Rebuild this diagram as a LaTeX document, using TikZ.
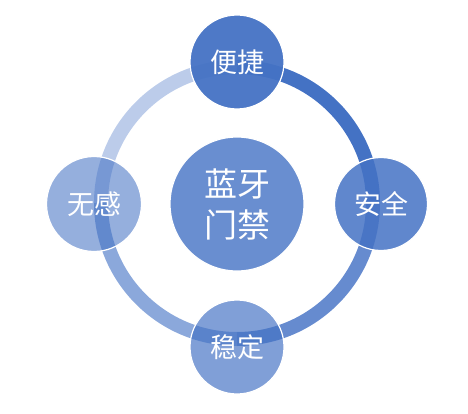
\documentclass[tikz,border=0pt]{standalone}
\usepackage{fontspec}
\newfontfamily\cjk{Noto Sans CJK SC}
\definecolor{base}{HTML}{4472C4}
\tikzset{
  bubble/.style={circle, inner sep=0pt, fill=base, draw=white, line width=1.2pt,
    text=white, text opacity=1, font=\cjk\fontsize{27}{30}\selectfont},
  ringarc/.style={line width=14pt, line cap=butt},
}
\begin{document}
\begin{tikzpicture}[x=1pt,y=1pt]
\useasboundingbox (0,0) rectangle (468,413);
\coordinate (ringc) at (237,210);
% ring quadrants
\draw[ringarc, base!36!white] (ringc) ++(180:136) arc[start angle=180, end angle=90, radius=136];
\draw[ringarc, base!62!white] (ringc) ++(270:136) arc[start angle=270, end angle=180, radius=136];
\draw[ringarc, base!82!white] (ringc) ++(360:136) arc[start angle=360, end angle=270, radius=136];
\draw[ringarc, base] (ringc) ++(90:136) arc[start angle=90, end angle=0, radius=136];
% circles
\node[bubble, minimum size=134pt, fill opacity=0.8, font=\cjk\fontsize{33}{41}\selectfont, align=center] (center) at (237,209) {蓝牙\\门禁};
\node[bubble, minimum size=94pt, fill opacity=0.95] (top) at (237,351) {便捷};
\node[bubble, minimum size=93pt, fill opacity=0.85] (right) at (381,209) {安全};
\node[bubble, minimum size=94pt, fill opacity=0.68] (bottom) at (237,66) {稳定};
\node[bubble, minimum size=95pt, fill opacity=0.57] (left) at (94,209) {无感};
\end{tikzpicture}
\end{document}
